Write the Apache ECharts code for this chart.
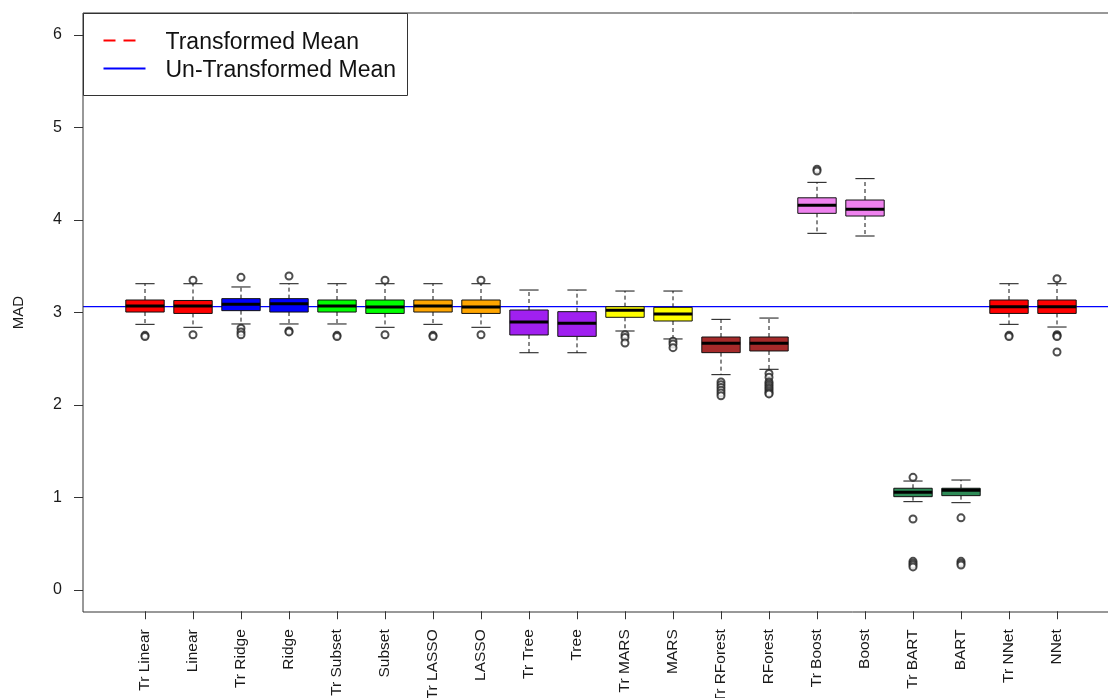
<!DOCTYPE html>
<html>
<head>
<meta charset="utf-8">
<script src="https://cdn.jsdelivr.net/npm/echarts@6/dist/echarts.min.js"></script>
<style>
  html, body { margin: 0; padding: 0; background: #fff; }
  #chart { width: 1108px; height: 698px; }
</style>
</head>
<body>
<div id="chart"></div>
<script>
// Model names along the x axis
const methods = ['Tr Linear', 'Linear', 'Tr Ridge', 'Ridge', 'Tr Subset', 'Subset',
  'Tr LASSO', 'LASSO', 'Tr Tree', 'Tree', 'Tr MARS', 'MARS', 'Tr RForest', 'RForest',
  'Tr Boost', 'Boost', 'Tr BART', 'BART', 'Tr NNet', 'NNet'];

// Box fill colours per model
const boxColors = ['#FF0000', '#FF0000', '#0000FF', '#0000FF', '#00FF00', '#00FF00',
  '#FFA500', '#FFA500', '#A020F0', '#A020F0', '#FFFF00', '#FFFF00', '#A52A2A', '#A52A2A',
  '#EE82EE', '#EE82EE', '#2E8B57', '#2E8B57', '#FF0000', '#FF0000'];

// Five-number summaries of MAD per model
const whiskerLow  = [2.872, 2.84, 2.876, 2.876, 2.876, 2.84, 2.872, 2.84, 2.565, 2.565, 2.80, 2.714, 2.328, 2.386, 3.856, 3.827, 0.955, 0.944, 2.872, 2.843];
const lowerQuart  = [3.005, 2.99, 3.02, 3.005, 3.005, 2.99, 3.005, 2.99, 2.757, 2.742, 2.948, 2.908, 2.566, 2.584, 4.072, 4.043, 1.009, 1.02, 2.99, 2.99];
const medians     = [3.07, 3.07, 3.09, 3.095, 3.07, 3.06, 3.07, 3.06, 2.897, 2.883, 3.023, 2.984, 2.667, 2.667, 4.159, 4.115, 1.056, 1.078, 3.063, 3.063];
const upperQuart  = [3.135, 3.13, 3.15, 3.15, 3.135, 3.135, 3.135, 3.135, 3.027, 3.009, 3.063, 3.056, 2.735, 2.735, 4.24, 4.216, 1.10, 1.10, 3.135, 3.135];
const whiskerHigh = [3.311, 3.311, 3.276, 3.311, 3.311, 3.311, 3.311, 3.311, 3.243, 3.243, 3.232, 3.232, 2.926, 2.94, 4.407, 4.447, 1.178, 1.189, 3.311, 3.311];

// Outlying observations per model
const outlierValues = [
  [2.753, 2.74],
  [3.35, 2.76],
  [3.38, 2.83, 2.79, 2.76],
  [3.395, 2.80, 2.79],
  [2.753, 2.74],
  [3.35, 2.76],
  [2.753, 2.74],
  [3.35, 2.76],
  [],
  [],
  [2.76, 2.73, 2.67],
  [2.69, 2.66, 2.62],
  [2.25, 2.22, 2.19, 2.16, 2.13, 2.10],
  [2.34, 2.30, 2.25, 2.23, 2.21, 2.19, 2.17, 2.15, 2.13, 2.12],
  [4.55, 4.53],
  [],
  [1.218, 0.768, 0.31, 0.29, 0.27, 0.25],
  [0.78, 0.31, 0.29, 0.27],
  [2.753, 2.74],
  [3.366, 2.76, 2.75, 2.74, 2.573]
];

// Overall mean of the un-transformed models
const untransformedMean = 3.063;

// Y axis ticks
const yTicks = [0, 1, 2, 3, 4, 5, 6];

const boxData = methods.map((m, i) => [i, whiskerLow[i], lowerQuart[i], medians[i], upperQuart[i], whiskerHigh[i]]);
const outlierData = [];
outlierValues.forEach((vals, i) => vals.forEach(v => outlierData.push([i, v])));

const FONT = '"Liberation Sans", Arial, sans-serif';
const INK = '#1a1a1a';

const chart = echarts.init(document.getElementById('chart'), null, { renderer: 'canvas' });

function renderBox(params, api) {
  const i = api.value(0);
  const x = api.coord([i, 0])[0];
  const band = api.size([1, 0])[0];
  const half = band * 0.4;
  const cap = band * 0.2;
  const yLo = api.coord([i, api.value(1)])[1];
  const yQ1 = api.coord([i, api.value(2)])[1];
  const yMed = api.coord([i, api.value(3)])[1];
  const yQ3 = api.coord([i, api.value(4)])[1];
  const yHi = api.coord([i, api.value(5)])[1];
  const lineStyle = { stroke: '#111', lineWidth: 1 };
  const dashed = { stroke: '#111', lineWidth: 1, lineDash: [4, 3] };
  return {
    type: 'group',
    children: [
      { type: 'line', shape: { x1: x, y1: yQ3, x2: x, y2: yHi }, style: dashed },
      { type: 'line', shape: { x1: x, y1: yQ1, x2: x, y2: yLo }, style: dashed },
      { type: 'line', shape: { x1: x - cap, y1: yHi, x2: x + cap, y2: yHi }, style: lineStyle },
      { type: 'line', shape: { x1: x - cap, y1: yLo, x2: x + cap, y2: yLo }, style: lineStyle },
      { type: 'rect', shape: { x: x - half, y: yQ3, width: half * 2, height: yQ1 - yQ3 },
        style: { fill: boxColors[i], stroke: '#111', lineWidth: 1 } },
      { type: 'line', shape: { x1: x - half, y1: yMed, x2: x + half, y2: yMed },
        style: { stroke: '#000', lineWidth: 3 } }
    ]
  };
}

function renderMeanLine(params, api) {
  const cs = params.coordSys;
  const y = api.coord([0, api.value(0)])[1];
  return {
    type: 'line',
    shape: { x1: cs.x - 38, y1: y, x2: cs.x + cs.width + 38, y2: y },
    style: { stroke: '#0000FF', lineWidth: 1.2 }
  };
}

const option = {
  backgroundColor: '#fff',
  animation: false,
  grid: [
    // data area: value 0 at y=590, value 6 at y=35
    { left: 121, right: 27, top: 35, bottom: 108 },
    // strip holding the category ticks and labels below the plot frame
    { left: 121, right: 27, top: 611, bottom: 86 }
  ],
  xAxis: [
    {
      gridIndex: 0,
      type: 'category',
      data: methods,
      boundaryGap: true,
      show: false
    },
    {
      gridIndex: 1,
      type: 'category',
      data: methods,
      position: 'bottom',
      boundaryGap: true,
      axisLine: { show: false },
      axisTick: { show: true, alignWithLabel: true, length: 8, lineStyle: { color: '#333', width: 1 } },
      axisLabel: { rotate: 90, margin: 18, fontSize: 15.5, fontFamily: FONT, color: INK, interval: 0 },
      splitLine: { show: false }
    }
  ],
  yAxis: [
    {
      gridIndex: 0,
      type: 'value',
      min: yTicks[0],
      max: yTicks[yTicks.length - 1],
      interval: 1,
      offset: 38,
      name: 'MAD',
      nameLocation: 'middle',
      nameGap: 57,
      nameRotate: 90,
      nameTextStyle: { fontSize: 15, fontFamily: FONT, color: INK },
      axisLine: { show: false },
      axisTick: { show: true, length: 9, lineStyle: { color: '#333', width: 1 } },
      axisLabel: { margin: 21, fontSize: 16, fontFamily: FONT, color: INK },
      splitLine: { show: false }
    },
    {
      gridIndex: 1,
      type: 'value',
      show: false
    }
  ],
  series: [
    {
      name: 'Un-Transformed Mean',
      type: 'custom',
      renderItem: renderMeanLine,
      data: [[untransformedMean]],
      z: 1
    },
    {
      name: 'boxes',
      type: 'custom',
      renderItem: renderBox,
      data: boxData,
      z: 2
    },
    {
      name: 'outliers',
      type: 'scatter',
      symbol: 'emptyCircle',
      symbolSize: 7,
      itemStyle: { color: '#222', borderWidth: 1 },
      data: outlierData,
      z: 3
    }
  ],
  graphic: [
    // plot frame
    { type: 'rect', shape: { x: 83, y: 13, width: 1036, height: 599 },
      style: { fill: null, stroke: '#333', lineWidth: 1 }, z: 10, silent: true },
    // legend
    {
      type: 'group', left: 83, top: 13, z: 11,
      children: [
        { type: 'rect', shape: { x: 0, y: 0, width: 324, height: 82 },
          style: { fill: '#fff', stroke: '#333', lineWidth: 1 } },
        { type: 'line', shape: { x1: 20, y1: 27, x2: 52, y2: 27 },
          style: { stroke: '#FF0000', lineWidth: 2, lineDash: [12, 8] } },
        { type: 'text', x: 82, y: 29, style: { text: 'Transformed Mean', font: '23px "Liberation Sans", Arial, sans-serif',
          fill: '#111', verticalAlign: 'middle' } },
        { type: 'line', shape: { x1: 20, y1: 55, x2: 62, y2: 55 },
          style: { stroke: '#0000FF', lineWidth: 2 } },
        { type: 'text', x: 82, y: 57, style: { text: 'Un-Transformed Mean', font: '23px "Liberation Sans", Arial, sans-serif',
          fill: '#111', verticalAlign: 'middle' } }
      ]
    }
  ]
};

chart.setOption(option);
</script>
</body>
</html>
